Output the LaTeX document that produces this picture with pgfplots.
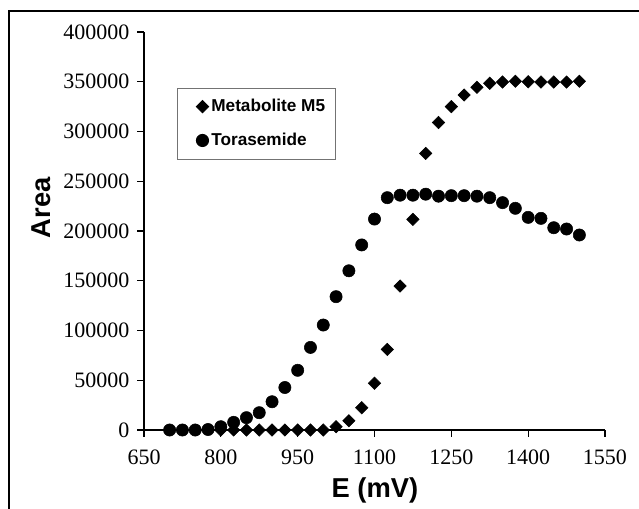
\documentclass[border=0pt]{standalone}
\usepackage{fontspec}
\setmainfont{Liberation Serif}
\newfontfamily\arialfont{Liberation Sans}
\usepackage{pgfplots}
\pgfplotsset{compat=1.18}

% Metabolite M5 (diamonds)
\pgfplotstableread{
E A
800 0
825 0
850 0
875 0
900 0
925 0
950 0
975 0
1000 0
1025 3300
1050 9300
1075 22400
1100 47000
1125 81000
1150 144700
1175 211700
1200 278000
1225 309000
1250 325000
1275 336700
1300 344400
1325 348400
1350 349700
1375 350500
1400 350000
1425 349700
1450 349700
1475 349700
1500 350500
}\metabolite

% Torasemide (circles)
\pgfplotstableread{
E A
700 0
725 0
750 0
775 500
800 3300
825 7700
850 12400
875 17400
900 28400
925 42700
950 60000
975 83000
1000 105500
1025 134000
1050 160000
1075 186000
1100 212000
1125 233500
1150 236000
1175 236000
1200 237000
1225 235000
1250 235500
1275 235500
1300 235000
1325 233500
1350 228500
1375 222800
1400 213700
1425 212700
1450 203300
1475 202000
1500 196000
}\torasemide

% legend image: a single mark, with extra room on its left
\pgfplotsset{
  legmark/.style={legend image code/.code={%
    \path[draw=none] (0cm,0cm) (0.5cm,0cm);
    \draw[##1] plot coordinates {(0.45cm,0cm)};}}
}

\begin{document}
\begin{tikzpicture}
\useasboundingbox (0,0) rectangle (479.25pt,381pt);
% outer frame (top and left edges visible)
\draw[line width=1.2pt] (6.75pt,-2pt) -- (6.75pt,372.75pt) -- (482pt,372.75pt);

\begin{axis}[
    at={(108pt,58.5pt)}, anchor=south west,
    scale only axis,
    width=345.75pt, height=298.5pt,
    xmin=650, xmax=1550, ymin=0, ymax=400000,
    xtick={650,800,...,1550},
    ytick={0,50000,...,400000},
    axis x line*=bottom, axis y line*=left,
    axis line style={line width=1pt},
    tick align=outside, major tick length=5pt,
    tick style={line width=0.9pt, black},
    scaled y ticks=false,
    /pgf/number format/assume math mode=true,
    /pgf/number format/fixed,
    /pgf/number format/precision=0,
    /pgf/number format/1000 sep={},
    tick label style={font=\fontsize{16.5}{19}\selectfont},
    xticklabel style={yshift=-6pt},
    yticklabel style={xshift=-2.5pt},
    xlabel={E (mV)}, ylabel={Area},
    label style={font=\arialfont\bfseries\fontsize{20.5}{23}\selectfont},
    xlabel style={at={(axis description cs:0.501,-0.151)}, anchor=center},
    ylabel style={at={(axis description cs:-0.2234,0.558)}, anchor=center},
    legend style={at={(axis description cs:0.0716,0.86)}, anchor=north west,
        draw=black!55, line width=0.6pt,
        font=\arialfont\bfseries\fontsize{12.9}{15}\selectfont,
        row sep=10.5pt, inner xsep=6pt, inner ysep=6.5pt},
    legend cell align=left,
]
\addplot[only marks, legmark, mark=square*, mark size=3.3pt, mark options={rotate=45, black, fill=black}] table[x=E,y=A] {\metabolite};
\addlegendentry{Metabolite M5}
\addplot[only marks, legmark, mark=*, mark size=4.6pt, mark options={black, fill=black}] table[x=E,y=A] {\torasemide};
\addlegendentry{Torasemide}
\end{axis}
\end{tikzpicture}
\end{document}
